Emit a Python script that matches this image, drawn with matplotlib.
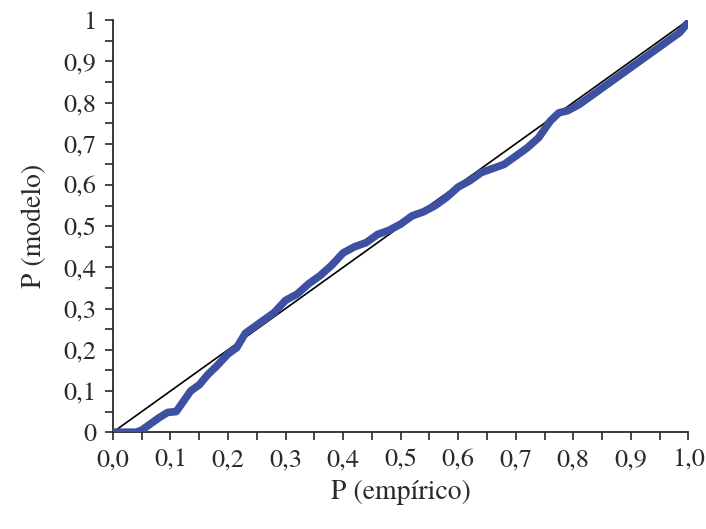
import matplotlib

matplotlib.use("Agg")

import matplotlib.pyplot as plt
from matplotlib.ticker import MultipleLocator

# empirical vs model cumulative probability (P-P plot)
p_emp = [0.000, 0.020, 0.040, 0.050, 0.065, 0.080, 0.095, 0.110, 0.120, 0.135,
         0.150, 0.165, 0.180, 0.200, 0.215, 0.230, 0.245, 0.260, 0.280, 0.300,
         0.320, 0.340, 0.360, 0.380, 0.400, 0.420, 0.440, 0.460, 0.480, 0.500,
         0.520, 0.540, 0.560, 0.580, 0.600, 0.620, 0.640, 0.660, 0.680, 0.700,
         0.720, 0.740, 0.760, 0.775, 0.790, 0.810, 0.830, 0.850, 0.870, 0.890,
         0.910, 0.930, 0.950, 0.970, 0.985, 1.000]
p_mod = [0.000, 0.000, 0.000, 0.005, 0.020, 0.035, 0.048, 0.050, 0.070, 0.100,
         0.115, 0.140, 0.160, 0.190, 0.205, 0.240, 0.255, 0.270, 0.290, 0.320,
         0.335, 0.360, 0.380, 0.405, 0.435, 0.450, 0.460, 0.480, 0.490, 0.505,
         0.525, 0.535, 0.550, 0.570, 0.595, 0.610, 0.630, 0.640, 0.650, 0.670,
         0.690, 0.715, 0.755, 0.775, 0.780, 0.795, 0.815, 0.835, 0.855, 0.875,
         0.895, 0.915, 0.935, 0.955, 0.970, 0.995]

x_ticks = [0.0, 0.1, 0.2, 0.3, 0.4, 0.5, 0.6, 0.7, 0.8, 0.9, 1.0]
x_labels = ["0,0", "0,1", "0,2", "0,3", "0,4", "0,5", "0,6", "0,7", "0,8", "0,9", "1,0"]
y_ticks = [0.0, 0.1, 0.2, 0.3, 0.4, 0.5, 0.6, 0.7, 0.8, 0.9, 1.0]
y_labels = ["0", "0,1", "0,2", "0,3", "0,4", "0,5", "0,6", "0,7", "0,8", "0,9", "1"]

plt.rcParams["font.family"] = ["TeX Gyre Termes", "FreeSerif", "DejaVu Serif"]
ink = "#2a2a2a"

fig = plt.figure(figsize=(7.06, 5.29), dpi=100)
ax = fig.add_axes([0.160, 0.183, 0.815, 0.779])

ax.plot([0, 1], [0, 1], color="black", linewidth=1.2, zorder=2)
ax.plot(p_emp, p_mod, color="#3d50a2", linewidth=5.5, solid_capstyle="round",
        solid_joinstyle="round", zorder=3)

ax.set_xlim(0, 1)
ax.set_ylim(0, 1)
for side in ("top", "right"):
    ax.spines[side].set_visible(False)
for side in ("left", "bottom"):
    ax.spines[side].set_linewidth(1.3)
    ax.spines[side].set_color(ink)

ax.set_xticks(x_ticks)
ax.set_xticklabels(x_labels)
ax.set_yticks(y_ticks)
ax.set_yticklabels(y_labels)
ax.xaxis.set_minor_locator(MultipleLocator(0.05))
ax.yaxis.set_minor_locator(MultipleLocator(0.05))
ax.tick_params(which="both", direction="out", length=6, width=1.2, color=ink,
               labelcolor=ink, labelsize=19, pad=6)

ax.set_xlabel("P (empírico)", fontsize=20, labelpad=5, color=ink)
ax.set_ylabel("P (modelo)", fontsize=20, labelpad=12, color=ink)

fig.savefig("out.png", dpi=100)
